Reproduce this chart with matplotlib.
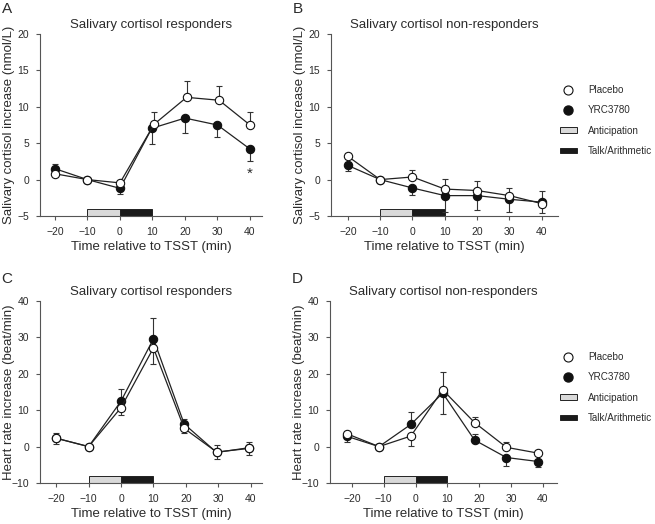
import matplotlib
matplotlib.use("Agg")
import matplotlib.pyplot as plt
from matplotlib.lines import Line2D
from matplotlib.patches import Patch
import numpy as np

plt.rcParams['font.family'] = ['Liberation Sans', 'DejaVu Sans']
TXT = '#2b2b2b'
plt.rcParams['text.color'] = TXT
plt.rcParams['axes.labelcolor'] = TXT
plt.rcParams['xtick.color'] = '#555555'
plt.rcParams['ytick.color'] = '#555555'
plt.rcParams['xtick.labelcolor'] = TXT
plt.rcParams['ytick.labelcolor'] = TXT

# ---------------- data ----------------
time = [-20, -10, 0, 10, 20, 30, 40]
time_a_pl = [-20, -10, 0, 10.5, 20.5, 30.5, 40]
time_a_yr = [-20, -10, 0, 9.8, 20, 30, 40]
time_c = [-20, -10, 0, 10, 19.5, 29.5, 39.5]
time_d = [-21.5, -11.5, -1.5, 8.5, 18.5, 28.5, 38.5]

# Panel A: cortisol responders (nmol/L)
a_placebo = [0.8, 0.0, -0.45, 7.6, 11.3, 10.9, 7.5]
a_placebo_lo = [0, 0, 0, 0, 0, 0, 0]
a_placebo_hi = [0.4, 0, 0.4, 1.7, 2.2, 2.0, 1.8]
a_yrc = [1.5, 0.0, -1.2, 7.05, 8.45, 7.5, 4.2]
a_yrc_lo = [0, 0, 0.8, 2.2, 2.0, 1.7, 1.6]
a_yrc_hi = [0.6, 0, 0, 0, 0, 0, 0]

# Panel B: cortisol non-responders (nmol/L)
b_placebo = [3.2, 0.0, 0.36, -1.3, -1.5, -2.2, -3.3]
b_placebo_lo = [0, 0, 0, 0, 0, 0, 1.3]
b_placebo_hi = [0.5, 0, 0.9, 1.4, 1.3, 1.0, 0]
b_yrc = [1.95, 0.0, -1.15, -2.2, -2.2, -2.7, -3.1]
b_yrc_lo = [0.8, 0, 0.9, 2.3, 2.0, 1.8, 0]
b_yrc_hi = [0, 0, 0, 0, 0, 0, 1.6]

# Panel C: heart rate, responders (beat/min)
c_placebo = [2.3, 0.0, 10.7, 27.1, 5.0, -1.5, -0.5]
c_placebo_lo = [1.5, 0, 2.1, 4.4, 1.4, 1.9, 1.8]
c_placebo_hi = [0, 0, 0, 0, 0, 0, 0]
c_yrc = [2.3, 0.0, 12.5, 29.6, 6.2, -1.6, -0.3]
c_yrc_lo = [0, 0, 0, 0, 0, 0, 0]
c_yrc_hi = [1.5, 0, 3.4, 5.7, 1.5, 2.0, 1.7]

# Panel D: heart rate, non-responders (beat/min)
d_placebo = [3.5, 0.0, 2.9, 15.6, 6.6, -0.2, -1.8]
d_placebo_lo = [0, 0, 2.6, 0, 0, 0, 0]
d_placebo_hi = [0.8, 0, 0, 4.9, 1.4, 1.6, 0.9]
d_yrc = [2.8, 0.0, 6.1, 14.7, 1.8, -3.0, -4.1]
d_yrc_lo = [1.4, 0, 0, 5.8, 0, 2.3, 1.5]
d_yrc_hi = [0, 0, 3.4, 0, 1.7, 0, 0]

phase_names = ['Anticipation', 'Talk/Arithmetic']
phase_start = [-10, 0]
phase_len = [10, 10]
phase_colors = ['#d9d9d9', '#1a1a1a']

xticks = [-20, -10, 0, 10, 20, 30, 40]
series_names = ['Placebo', 'YRC3780']

fig = plt.figure(figsize=(6.55, 5.24), dpi=100)
W, H = 655, 524


def make_ax(left_px, top_px, w_px, h_px):
    return fig.add_axes([left_px / W, 1 - (top_px + h_px) / H, w_px / W, h_px / H])


def style(ax, w_px, h_px, xlim, ylim, yticks, ylabel, title, letter, letter_dy):
    ax.set_xlim(*xlim)
    ax.set_ylim(*ylim)
    ax.set_xticks(xticks)
    ax.set_yticks(yticks)
    for s in ['top', 'right']:
        ax.spines[s].set_visible(False)
    for s in ['left', 'bottom']:
        ax.spines[s].set_color('#555555')
        ax.spines[s].set_linewidth(0.8)
    ax.tick_params(direction='out', length=3, width=0.8, labelsize=7.5, pad=5)
    ax.set_xlabel('Time relative to TSST (min)', fontsize=9.5, labelpad=3)
    ax.set_ylabel(ylabel, fontsize=9.5)
    ax.yaxis.set_label_coords(-25 / w_px, 0.5)
    ax.set_title(title, fontsize=9.5, pad=4, color=TXT)
    ax.text(-33 / w_px, 1 + letter_dy / h_px, letter, transform=ax.transAxes,
            fontsize=11, va='center', ha='center', color=TXT)
    # phase bars
    rng = ylim[1] - ylim[0]
    for st, ln, col in zip(phase_start, phase_len, phase_colors):
        ax.bar(st, 0.04 * rng, width=ln, bottom=ylim[0], align='edge',
               color=col, edgecolor='#222222', linewidth=0.7, zorder=2,
               clip_on=False)


def plot_series(ax, t, y, lo, hi, filled):
    ax.errorbar(t, y, yerr=[lo, hi], fmt='none', ecolor='#333333',
                elinewidth=0.8, capsize=2.5, capthick=0.8, zorder=3)
    ax.plot(t, y, '-', color='#222222', lw=0.9, zorder=4,
            marker='o', markersize=6,
            markerfacecolor='#111111' if filled else 'white',
            markeredgecolor='#111111', markeredgewidth=0.8)


# Panel A
axA = make_ax(40, 34, 222, 182)
style(axA, 222, 182, (-24.6, 43.7), (-5, 20), [-5, 0, 5, 10, 15, 20],
      'Salivary cortisol increase (nmol/L)', 'Salivary cortisol responders', 'A', 25)
plot_series(axA, time_a_yr, a_yrc, a_yrc_lo, a_yrc_hi, True)
plot_series(axA, time_a_pl, a_placebo, a_placebo_lo, a_placebo_hi, False)
axA.text(40, 0.8, '*', ha='center', va='center', fontsize=11, color=TXT)

# Panel B
axB = make_ax(331, 34, 227, 182)
style(axB, 227, 182, (-25.2, 45.0), (-5, 20), [-5, 0, 5, 10, 15, 20],
      'Salivary cortisol increase (nmol/L)', 'Salivary cortisol non-responders', 'B', 25)
plot_series(axB, time, b_yrc, b_yrc_lo, b_yrc_hi, True)
plot_series(axB, time, b_placebo, b_placebo_lo, b_placebo_hi, False)

# Panel C
axC = make_ax(40, 301, 222, 182)
style(axC, 222, 182, (-25.0, 43.5), (-10, 40), [-10, 0, 10, 20, 30, 40],
      'Heart rate increase (beat/min)', 'Salivary cortisol responders', 'C', 22)
plot_series(axC, time_c, c_yrc, c_yrc_lo, c_yrc_hi, True)
plot_series(axC, time_c, c_placebo, c_placebo_lo, c_placebo_hi, False)

# Panel D
axD = make_ax(330, 301, 227, 182)
style(axD, 227, 182, (-26.9, 44.4), (-10, 40), [-10, 0, 10, 20, 30, 40],
      'Heart rate increase (beat/min)', 'Salivary cortisol non-responders', 'D', 22)
plot_series(axD, time_d, d_yrc, d_yrc_lo, d_yrc_hi, True)
plot_series(axD, time_d, d_placebo, d_placebo_lo, d_placebo_hi, False)


# legends
def legend_handles():
    h = [Line2D([], [], ls='none', marker='o', markersize=6.5, markerfacecolor='white',
                markeredgecolor='#111111', markeredgewidth=0.8),
         Line2D([], [], ls='none', marker='o', markersize=6.5, markerfacecolor='#111111',
                markeredgecolor='#111111')]
    for col in phase_colors:
        h.append(Patch(facecolor=col, edgecolor='#222222', linewidth=0.7))
    return h


labels = series_names + phase_names
for top in (85, 352):
    fig.legend(legend_handles(), labels, loc='upper left',
               bbox_to_anchor=(560 / W, 1 - top / H), frameon=False,
               fontsize=7.1, handlelength=1.72, handleheight=0.5, handletextpad=1.1,
               labelspacing=1.05, borderaxespad=0, borderpad=0)

fig.savefig('out.png', dpi=100)
